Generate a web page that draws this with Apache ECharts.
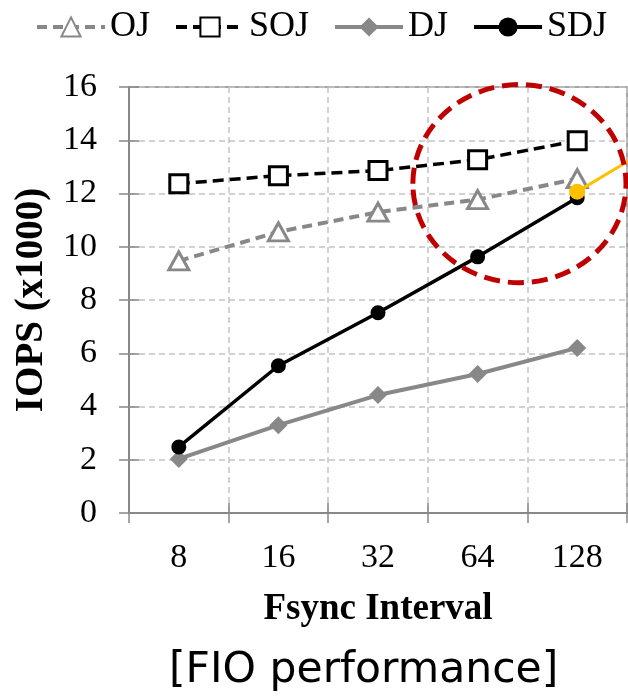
<!DOCTYPE html>
<html>
<head>
<meta charset="utf-8">
<script src="https://cdn.jsdelivr.net/npm/echarts@6/dist/echarts.min.js"></script>
<style>
  html, body { margin: 0; padding: 0; background: #fff; }
  #chart { width: 628px; height: 699px; }
</style>
</head>
<body>
<div id="chart"></div>
<script>
// Fsync interval categories
const intervals = ['8', '16', '32', '64', '128']
const yTicks = { min: 0, max: 16, step: 2 }

// IOPS (x1000)
const ojValues = [9.47, 10.56, 11.3, 11.77, 12.56]
const sojValues = [12.37, 12.67, 12.86, 13.27, 13.98]
const djValues = [2.03, 3.3, 4.43, 5.22, 6.2]
const sdjValues = [2.48, 5.53, 7.52, 9.62, 11.84]

// yellow pointer annotation (category index, value)
const pointerStart = [4, 12.07]
const pointerEnd = [5, 14.3]

// red dashed highlight ellipse, in data units (x in category steps)
const highlightCenter = [3.42, 12.37]
const highlightRadius = [1.07, 3.72]

const serif = 'Liberation Serif'
const gray = '#888888'

const chart = echarts.init(document.getElementById('chart'))

const option = {
  animation: false,
  backgroundColor: '#ffffff',
  title: {
    text: '[FIO performance]',
    left: 164,
    top: 644,
    textStyle: { fontFamily: 'DejaVu Sans', fontSize: 42.5, fontWeight: 'normal', color: '#000' }
  },
  legend: {
    top: 4,
    left: 30,
    itemWidth: 68,
    itemHeight: 24,
    itemGap: 24,
    data: ['OJ', 'SOJ', 'DJ', 'SDJ'],
    lineStyle: { width: 4 },
    textStyle: { fontFamily: serif, fontSize: 36, color: '#000' }
  },
  grid: {
    left: 129,
    right: 1,
    top: 87,
    bottom: 699 - 513,
    show: true,
    borderColor: gray,
    borderWidth: 1.5
  },
  xAxis: [
    {
      type: 'category',
      data: intervals,
      boundaryGap: true,
      name: 'Fsync Interval',
      nameLocation: 'middle',
      nameGap: 78,
      nameTextStyle: { fontFamily: serif, fontSize: 37, fontWeight: 'bold', color: '#000' },
      axisLine: { lineStyle: { color: gray, width: 2 } },
      axisTick: { show: true, interval: 0, alignWithLabel: false, length: 10, lineStyle: { color: gray, width: 1.5 } },
      axisLabel: { margin: 28, fontFamily: serif, fontSize: 34, color: '#000' },
      splitLine: { show: true, interval: 0, lineStyle: { color: '#c4c4c4', width: 1.5, type: [6, 4] } }
    },
    {
      // inner half of the crossing ticks
      type: 'category',
      data: intervals,
      position: 'bottom',
      boundaryGap: true,
      axisLine: { show: false },
      axisTick: { show: true, inside: true, interval: 0, alignWithLabel: false, length: 10, lineStyle: { color: gray, width: 1.5 } },
      axisLabel: { show: false },
      splitLine: { show: false }
    }
  ],
  yAxis: [
    {
      type: 'value',
      min: yTicks.min,
      max: yTicks.max,
      interval: yTicks.step,
      name: 'IOPS (x1000)',
      nameLocation: 'middle',
      nameGap: 78,
      nameTextStyle: { fontFamily: serif, fontSize: 39, fontWeight: 'bold', color: '#000' },
      axisLine: { show: true, lineStyle: { color: gray, width: 2 } },
      axisTick: { show: true, length: 10, lineStyle: { color: gray, width: 1.5 } },
      axisLabel: { margin: 32, fontFamily: serif, fontSize: 34, color: '#000' },
      splitLine: { show: true, lineStyle: { color: '#c4c4c4', width: 1.5, type: [6, 4] } }
    },
    {
      type: 'value',
      position: 'left',
      min: yTicks.min,
      max: yTicks.max,
      interval: yTicks.step,
      axisLine: { show: false },
      axisTick: { show: true, inside: true, length: 10, lineStyle: { color: gray, width: 1.5 } },
      axisLabel: { show: false },
      splitLine: { show: false }
    }
  ],
  series: [
    {
      name: 'OJ',
      type: 'line',
      data: ojValues,
      symbol: 'triangle',
      symbolSize: [20, 18],
      lineStyle: { color: gray, width: 4, type: [10, 6] },
      itemStyle: { color: '#ffffff', borderColor: gray, borderWidth: 3 }
    },
    {
      name: 'SOJ',
      type: 'line',
      data: sojValues,
      symbol: 'rect',
      symbolSize: 18,
      lineStyle: { color: '#000', width: 3.5, type: [11, 6] },
      itemStyle: { color: '#ffffff', borderColor: '#000', borderWidth: 3 }
    },
    {
      name: 'DJ',
      type: 'line',
      data: djValues,
      symbol: 'diamond',
      symbolSize: 18,
      lineStyle: { color: gray, width: 4 },
      itemStyle: { color: gray }
    },
    {
      name: 'SDJ',
      type: 'line',
      data: sdjValues,
      symbol: 'circle',
      symbolSize: 15,
      lineStyle: { color: '#000', width: 3.5 },
      itemStyle: { color: '#000' }
    },
    {
      name: 'pointer',
      type: 'line',
      clip: false,
      z: 5,
      data: [
        { value: pointerStart, symbol: 'circle', symbolSize: 16 },
        { value: pointerEnd, symbol: 'none' }
      ],
      lineStyle: { color: '#ffc000', width: 3 },
      itemStyle: { color: '#ffc000' }
    }
  ]
}

chart.setOption(option)

// highlight ellipse anchored to data coordinates; the category axis only
// maps whole indices, so interpolate between neighbouring bands
const base = Math.floor(highlightCenter[0])
const p0 = chart.convertToPixel({ gridIndex: 0 }, [base, highlightCenter[1]])
const p1 = chart.convertToPixel({ gridIndex: 0 }, [base + 1, highlightCenter[1] + highlightRadius[1]])
const band = p1[0] - p0[0]
const cx = p0[0] + (highlightCenter[0] - base) * band
const cy = p0[1]
chart.setOption({
  graphic: [
    {
      type: 'ellipse',
      z: 10,
      silent: true,
      shape: { cx: cx, cy: cy, rx: highlightRadius[0] * band, ry: Math.abs(cy - p1[1]) },
      style: { fill: null, stroke: '#c00000', lineWidth: 5, lineDash: [16, 8] }
    }
  ]
})
</script>
</body>
</html>
